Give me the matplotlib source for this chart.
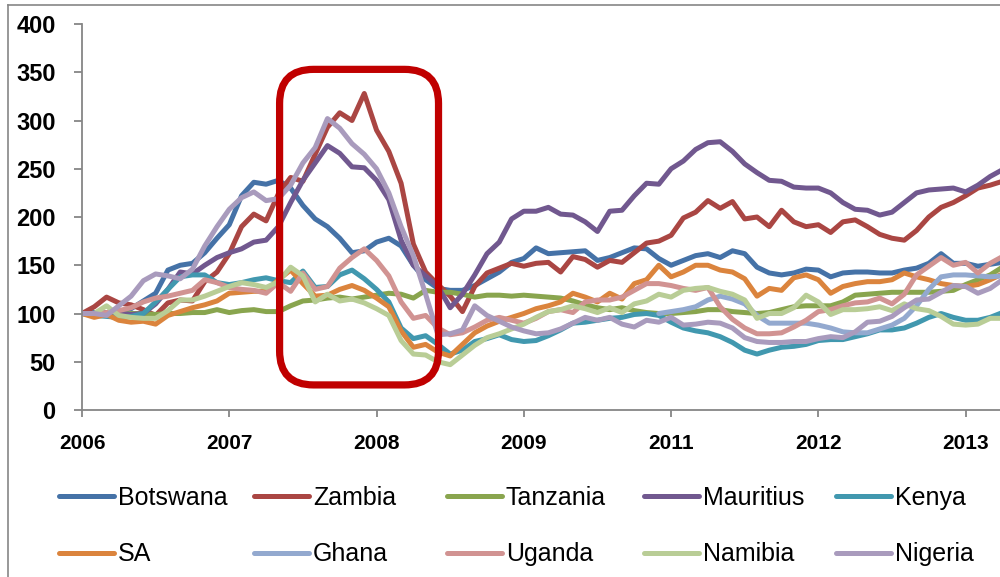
import numpy as np
import matplotlib
matplotlib.use('Agg')
import matplotlib.pyplot as plt
from matplotlib.patches import FancyBboxPatch
from matplotlib.lines import Line2D
from matplotlib.transforms import IdentityTransform

plt.rcParams['font.family'] = ['Liberation Sans', 'DejaVu Sans']

# --- data: monthly index, Jan 2006 = 100 ---
months = list(range(76))
year_ticks = [0, 12, 24, 36, 48, 60, 72]
year_labels = ['2006', '2007', '2008', '2009', '2011', '2012', '2013']

botswana = [100, 101, 100, 102, 105, 113, 121, 145, 150, 152,
            163, 178, 192, 222, 236, 234, 238, 230, 212, 198,
            190, 178, 163, 165, 174, 178, 170, 150, 135, 126,
            124, 124, 129, 136, 143, 153, 157, 168, 162, 163,
            164, 165, 155, 158, 163, 168, 167, 157, 150, 155,
            160, 162, 158, 165, 162, 148, 142, 140, 142, 146,
            145, 138, 142, 143, 143, 142, 142, 145, 147, 152,
            162, 152, 152, 149, 151, 153]
zambia = [100, 107, 117, 111, 109, 104, 98, 111, 114, 113,
          133, 143, 162, 190, 203, 196, 224, 241, 237, 265,
          293, 308, 300, 328, 290, 268, 235, 172, 143, 130,
          118, 102, 128, 142, 147, 152, 149, 152, 153, 143,
          159, 156, 148, 155, 153, 163, 173, 175, 181, 199,
          205, 217, 209, 216, 198, 200, 190, 207, 195, 190,
          192, 184, 195, 197, 190, 182, 178, 176, 186, 200,
          210, 215, 222, 230, 233, 237]
tanzania = [100, 99, 98, 99, 100, 100, 99, 100, 100, 101,
            101, 104, 101, 103, 104, 102, 102, 108, 113, 114,
            116, 117, 115, 117, 119, 121, 120, 116, 124, 122,
            122, 120, 117, 119, 119, 118, 119, 118, 117, 116,
            113, 109, 106, 104, 106, 103, 101, 100, 100, 101,
            102, 104, 104, 102, 101, 100, 101, 104, 107, 108,
            108, 108, 112, 119, 120, 121, 122, 122, 122, 122,
            123, 124, 130, 135, 140, 148]
mauritius = [100, 100, 101, 100, 99, 100, 110, 125, 143, 141,
             150, 158, 163, 167, 174, 176, 190, 215, 238, 256,
             274, 266, 252, 251, 238, 218, 176, 150, 139, 128,
             106, 120, 140, 162, 174, 198, 206, 206, 210, 203,
             202, 195, 185, 206, 207, 222, 235, 234, 250, 258,
             270, 277, 278, 268, 255, 246, 238, 237, 231, 230,
             230, 225, 215, 208, 207, 202, 205, 215, 225, 228,
             229, 230, 226, 233, 242, 249]
kenya = [100, 98, 97, 96, 97, 100, 112, 125, 138, 140,
         140, 132, 130, 132, 135, 137, 134, 132, 144, 127,
         128, 140, 145, 136, 125, 112, 85, 74, 77, 68,
         58, 62, 71, 74, 78, 73, 71, 72, 77, 83,
         90, 91, 93, 95, 96, 99, 100, 98, 91, 85,
         82, 80, 76, 70, 62, 58, 62, 65, 66, 68,
         72, 73, 73, 76, 79, 83, 83, 85, 90, 96,
         100, 96, 93, 93, 96, 101]
sa = [100, 96, 99, 93, 91, 92, 89, 98, 102, 106,
      109, 113, 121, 122, 123, 123, 135, 145, 131, 118,
      119, 125, 129, 124, 116, 107, 82, 65, 68, 60,
      56, 68, 80, 87, 92, 96, 100, 105, 108, 112,
      121, 117, 112, 121, 115, 131, 135, 150, 138, 143,
      150, 150, 145, 143, 136, 118, 126, 124, 137, 140,
      135, 121, 128, 131, 133, 133, 135, 142, 138, 135,
      131, 129, 128, 130, 135, 141]
ghana_start = 47
ghana = [100, 102, 104, 107, 114, 118, 115, 110, 98, 90,
         90, 90, 90, 88, 85, 81, 80, 80, 84, 88,
         95, 108, 125, 138, 140, 140, 139, 138, 139]
uganda = [100, 100, 101, 103, 106, 112, 116, 118, 121, 124,
          135, 132, 127, 125, 124, 121, 132, 123, 142, 125,
          128, 147, 158, 167, 155, 139, 112, 95, 98, 85,
          78, 80, 86, 93, 96, 93, 90, 95, 102, 104,
          101, 112, 114, 114, 117, 124, 131, 131, 129, 126,
          124, 127, 107, 94, 85, 79, 79, 80, 86, 93,
          102, 104, 108, 111, 112, 116, 110, 120, 140, 149,
          158, 150, 153, 142, 152, 159]
namibia = [100, 100, 108, 98, 96, 95, 95, 103, 114, 114,
           118, 123, 128, 132, 130, 127, 133, 148, 139, 112,
           120, 113, 115, 111, 105, 98, 72, 58, 57, 50,
           47, 57, 67, 75, 79, 84, 89, 96, 102, 104,
           108, 105, 101, 106, 101, 110, 113, 120, 117, 124,
           126, 127, 123, 120, 114, 95, 100, 100, 106, 119,
           112, 99, 104, 104, 105, 107, 103, 110, 105, 103,
           97, 89, 88, 89, 95, 95]
nigeria = [100, 100, 98, 108, 118, 134, 141, 139, 136, 146,
           170, 190, 208, 220, 226, 217, 219, 233, 256, 272,
           302, 292, 276, 265, 250, 225, 190, 160, 120, 78,
           79, 83, 108, 98, 92, 86, 82, 79, 80, 84,
           90, 96, 93, 96, 89, 86, 93, 91, 96, 88,
           89, 91, 90, 85, 75, 71, 70, 70, 71, 71,
           74, 76, 75, 81, 91, 92, 97, 106, 114, 115,
           122, 129, 128, 121, 126, 135]

names = ['Botswana', 'Zambia', 'Tanzania', 'Mauritius', 'Kenya',
         'SA', 'Ghana', 'Uganda', 'Namibia', 'Nigeria']
series = [botswana, zambia, tanzania, mauritius, kenya,
          sa, ghana, uganda, namibia, nigeria]
colors = ['#4572A7', '#AA4643', '#89A54E', '#71588F', '#4198AF',
          '#DB843D', '#93A9CF', '#D19392', '#B9CD96', '#A99BBD']

# highlighted window (month index range, value range)
box_months = (16.1, 29.05)
box_values = (26, 353)

# --- figure ---
fig = plt.figure(figsize=(10, 5.77), dpi=100)
ax = fig.add_axes([0.082, 0.2894, 0.918, 0.669])

lines = []
for name, vals, col in zip(names, series, colors):
    xs = months[ghana_start:] if name == 'Ghana' else months
    ln, = ax.plot(xs, vals, color=col, lw=3.6, solid_joinstyle='round',
                  solid_capstyle='round', label=name)
    lines.append(ln)

ax.set_xlim(0, 74.8)
ax.set_ylim(0, 400)
ax.set_yticks(range(0, 401, 50))
ax.set_xticks(year_ticks)
ax.set_xticklabels(year_labels)

for s in ['top', 'right']:
    ax.spines[s].set_visible(False)
for s in ['left', 'bottom']:
    ax.spines[s].set_color('#868686')
    ax.spines[s].set_linewidth(1.3)

ax.tick_params(axis='y', direction='out', length=6, width=1.3, color='#868686',
               labelsize=17, pad=13)
ax.tick_params(axis='x', direction='out', length=5, width=1.3, color='#868686',
               labelsize=15, pad=12)
for lab in ax.get_xticklabels() + ax.get_yticklabels():
    lab.set_fontweight('bold')

# red rounded highlight box drawn in pixel space so corners stay round
(x0, y0) = ax.transData.transform((box_months[0], box_values[0]))
(x1, y1) = ax.transData.transform((box_months[1], box_values[1]))
box = FancyBboxPatch((x0, y0), x1 - x0, y1 - y0,
                     boxstyle='round,pad=0,rounding_size=34',
                     transform=IdentityTransform(), fill=False,
                     edgecolor='#C00000', lw=5.2, zorder=10)
fig.add_artist(box)

# chart area border (left and top)
fig.add_artist(Line2D([0.008, 0.008], [0, 0.991], color='#868686', lw=1.2))
fig.add_artist(Line2D([0.008, 1.0], [0.991, 0.991], color='#868686', lw=1.2))

# legend: five columns, evenly spaced like the original
col_x = [0.059, 0.254, 0.447, 0.644, 0.836]
for k, cx in enumerate(col_x):
    fig.legend([lines[k], lines[k + 5]], [names[k], names[k + 5]],
               loc='upper left', bbox_to_anchor=(cx, 0.158),
               frameon=False, fontsize=18, handlelength=2.2,
               handletextpad=0.15, labelspacing=1.3,
               borderpad=0, borderaxespad=0)

fig.savefig('out.png', dpi=100)
